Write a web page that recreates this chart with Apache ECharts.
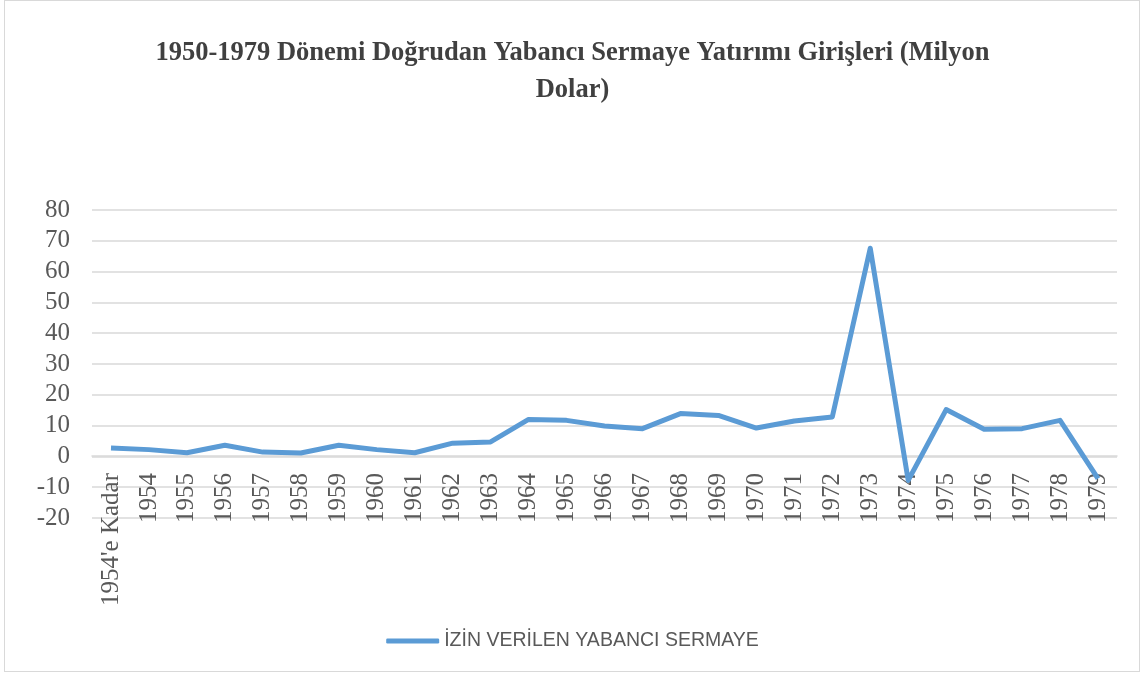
<!DOCTYPE html>
<html>
<head>
<meta charset="utf-8">
<script src="https://cdn.jsdelivr.net/npm/echarts@6/dist/echarts.min.js"></script>
<style>
  html, body { margin: 0; padding: 0; background: #fff; }
  #frame {
    position: absolute; left: 4px; top: 0; width: 1136px; height: 672px;
    border: 1px solid #d9d9d9; box-sizing: border-box;
  }
  #chart { position: absolute; left: 0; top: 0; width: 1145px; height: 674px; }
</style>
</head>
<body>
<div id="frame"></div>
<div id="chart"></div>
<script>
// kategoriler
const years = [
  "1954'e Kadar", "1954", "1955", "1956", "1957", "1958", "1959", "1960", "1961",
  "1962", "1963", "1964", "1965", "1966", "1967", "1968", "1969", "1970", "1971",
  "1972", "1973", "1974", "1975", "1976", "1977", "1978", "1979"
];
// milyon dolar
const izinVerilen = [
  2.7, 2.2, 1.2, 3.6, 1.4, 1.1, 3.6, 2.2, 1.2,
  4.3, 4.7, 12.0, 11.7, 9.9, 9.0, 13.9, 13.3, 9.2, 11.5,
  12.8, 67.6, -7.8, 15.2, 8.8, 9.0, 11.7, -7.2
];
const seriesName = "İZİN VERİLEN YABANCI SERMAYE";
const titleText = "1950-1979 Dönemi Doğrudan Yabancı Sermaye Yatırımı Girişleri (Milyon\nDolar)";

const chart = echarts.init(document.getElementById("chart"));
chart.setOption({
  animation: false,
  title: {
    text: titleText,
    left: "center",
    top: 30,
    textStyle: {
      fontFamily: "Liberation Serif",
      fontWeight: "bold",
      fontSize: 26.5,
      color: "#404040",
      lineHeight: 37
    }
  },
  legend: {
    data: [seriesName],
    top: 626,
    left: "center",
    icon: "roundRect",
    itemWidth: 53,
    itemHeight: 5,
    itemGap: 6,
    selectedMode: false,
    textStyle: { fontFamily: "Liberation Sans", fontSize: 19.5, color: "#595959" }
  },
  grid: { left: 92, right: 28, top: 210, bottom: 156 },
  xAxis: {
    type: "category",
    data: years,
    boundaryGap: true,
    offset: -62,
    axisLine: { onZero: false, lineStyle: { color: "#d9d9d9", width: 1.5 } },
    axisTick: { show: false },
    axisLabel: {
      rotate: 90,
      interval: 0,
      margin: 17,
      fontFamily: "Liberation Serif",
      fontSize: 25,
      color: "#595959"
    }
  },
  yAxis: {
    type: "value",
    min: -20,
    max: 80,
    interval: 10,
    axisLine: { show: false },
    axisTick: { show: false },
    splitLine: { lineStyle: { color: "#d9d9d9", width: 1.5 } },
    axisLabel: {
      margin: 22,
      fontFamily: "Liberation Serif",
      fontSize: 25,
      color: "#595959"
    }
  },
  series: [
    {
      name: seriesName,
      type: "line",
      data: izinVerilen,
      showSymbol: false,
      symbol: "none",
      color: "#5b9bd5",
      lineStyle: { width: 5, color: "#5b9bd5", join: "round" }
    }
  ]
});
</script>
</body>
</html>
